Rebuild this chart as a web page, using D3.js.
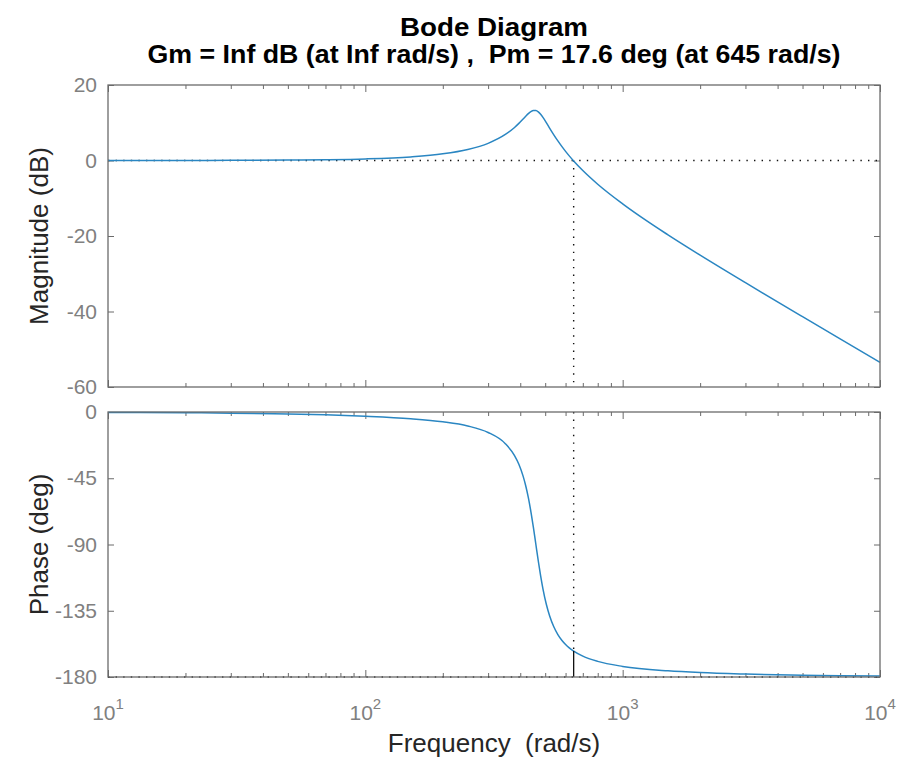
<!DOCTYPE html>
<html>
<head>
<meta charset="utf-8">
<script src="https://cdn.jsdelivr.net/npm/d3@7"></script>
<style>
  html, body { margin: 0; padding: 0; background: #fff; }
  svg { display: block; font-family: "Liberation Sans", Arial, Helvetica, sans-serif; }
  text { white-space: pre; }
</style>
</head>
<body>
<svg id="chart" width="906" height="763"></svg>
<script>
// Frequency response samples (rad/s)
const freq = [10, 20, 30, 50, 70, 100, 150, 200, 250, 300, 350, 380, 395, 410, 420, 430, 440, 450, 460,
  470, 480, 490, 505, 520, 540, 560, 580, 600, 620, 645, 700, 800, 1000, 1500, 2000, 3000, 5000, 7000, 10000];
// Magnitude (dB)
const magnitude = [0.00, 0.02, 0.04, 0.10, 0.20, 0.41, 0.95, 1.76, 2.92, 4.55, 6.89, 8.75, 9.83, 10.97, 11.72,
  12.41, 12.95, 13.25, 13.23, 12.88, 12.24, 11.42, 10.03, 8.60, 6.81, 5.19, 3.73, 2.42, 1.23, -0.12, -2.65,
  -6.28, -11.49, -19.70, -25.07, -32.37, -41.38, -47.26, -53.47];
// Phase (deg)
const phase = [-0.3, -0.5, -0.8, -1.4, -1.9, -2.9, -4.6, -6.7, -9.5, -13.9, -21.5, -29.6, -35.5, -43.4, -50.1,
  -58.2, -67.8, -78.6, -90.0, -101.2, -111.3, -120.1, -130.6, -138.4, -145.9, -151.2, -155.0, -157.9, -160.2,
  -162.4, -165.8, -169.4, -172.8, -175.8, -177.0, -178.0, -178.8, -179.2, -179.4];

// Axis ticks
const magTicks = [-60, -40, -20, 0, 20];
const phaseTicks = [-180, -135, -90, -45, 0];
const decadeTicks = [10, 100, 1000, 10000];
const decadeExponents = ["1", "2", "3", "4"];

// Stability margins
const crossoverFreq = 645;
const phaseAtCrossover = -162.4;
const titleLines = ["Bode Diagram", "Gm = Inf dB (at Inf rad/s) ,  Pm = 17.6 deg (at 645 rad/s)"];

const svg = d3.select("#chart");
const axisColor = "#6b6b6b";
const tickTextColor = "#808080";
const curveColor = "#2a86c2";

const x = d3.scaleLog().domain([10, 10000]).range([108, 880]);
const yMag = d3.scaleLinear().domain([-60, 20]).range([387, 85]);
const yPh = d3.scaleLinear().domain([-180, 0]).range([677, 412]);

const minorTicks = [];
for (let d = 10; d < 10000; d *= 10) for (let k = 2; k <= 9; k++) minorTicks.push(d * k);

function drawPanel(y, ticks) {
  const [yb, yt] = y.range();
  const g = svg.append("g");
  // left axis with labels
  const left = g.append("g").attr("transform", `translate(${x.range()[0]},0)`)
    .call(d3.axisLeft(y).tickValues(ticks).tickSizeInner(-6).tickSizeOuter(0).tickPadding(11).tickFormat(d => String(d)));
  left.selectAll("text").attr("fill", tickTextColor).attr("font-size", 21).attr("font-family", null);
  left.selectAll("line").attr("stroke", axisColor);
  left.select(".domain").remove();
  // right axis
  const right = g.append("g").attr("transform", `translate(${x.range()[1]},0)`)
    .call(d3.axisRight(y).tickValues(ticks).tickSizeInner(-6).tickSizeOuter(0).tickFormat(""));
  right.selectAll("line").attr("stroke", axisColor);
  right.select(".domain").remove();
  // top and bottom log ticks (inward)
  [[yt, 1], [yb, -1]].forEach(([yy, dir]) => {
    const major = g.append("g").attr("transform", `translate(0,${yy})`)
      .call((dir > 0 ? d3.axisTop(x) : d3.axisBottom(x)).tickValues(decadeTicks).tickSizeInner(-7).tickSizeOuter(0).tickFormat(""));
    major.selectAll("line").attr("stroke", axisColor);
    major.select(".domain").remove();
    const minor = g.append("g").attr("transform", `translate(0,${yy})`)
      .call((dir > 0 ? d3.axisTop(x) : d3.axisBottom(x)).tickValues(minorTicks).tickSizeInner(-4).tickSizeOuter(0).tickFormat(""));
    minor.selectAll("line").attr("stroke", axisColor);
    minor.select(".domain").remove();
  });
  return g;
}

function frame(y) {
  const [yb, yt] = y.range();
  svg.append("rect")
    .attr("x", x.range()[0]).attr("y", yt)
    .attr("width", x.range()[1] - x.range()[0]).attr("height", yb - yt)
    .attr("fill", "none").attr("stroke", axisColor).attr("stroke-width", 1.3);
}

drawPanel(yMag, magTicks);
drawPanel(yPh, phaseTicks);

const dotted = { stroke: "#111", "stroke-width": 1.4, "stroke-dasharray": "1.4 6.2" };
function dottedLine(x1, y1, x2, y2) {
  const l = svg.append("line").attr("x1", x1).attr("y1", y1).attr("x2", x2).attr("y2", y2);
  Object.entries(dotted).forEach(([k, v]) => l.attr(k, v));
  return l;
}

// 0 dB reference and crossover marker
dottedLine(x.range()[0], yMag(0), x.range()[1], yMag(0));
dottedLine(x(crossoverFreq), yMag(0), x(crossoverFreq), yMag.range()[0]);
// -180 deg reference and phase margin marker
dottedLine(x.range()[0], yPh(-180), x.range()[1], yPh(-180));
dottedLine(x(crossoverFreq), yPh.range()[1], x(crossoverFreq), yPh(phaseAtCrossover));

// Curves
const pts = freq.map((f, i) => ({ f, m: magnitude[i], p: phase[i] }));
svg.append("path").datum(pts)
  .attr("fill", "none").attr("stroke", curveColor).attr("stroke-width", 1.5)
  .attr("d", d3.line().x(d => x(d.f)).y(d => yMag(d.m)).curve(d3.curveMonotoneX));
svg.append("path").datum(pts)
  .attr("fill", "none").attr("stroke", curveColor).attr("stroke-width", 1.5)
  .attr("d", d3.line().x(d => x(d.f)).y(d => yPh(d.p)).curve(d3.curveMonotoneX));

svg.append("line")
  .attr("x1", x(crossoverFreq)).attr("x2", x(crossoverFreq))
  .attr("y1", yPh(phaseAtCrossover)).attr("y2", yPh(-180))
  .attr("stroke", "#111").attr("stroke-width", 1.3);

frame(yMag);
frame(yPh);

// Decade labels under the phase panel
const xl = svg.append("g");
decadeTicks.forEach((d, i) => {
  const t = xl.append("text")
    .attr("x", x(d)).attr("y", 720)
    .attr("text-anchor", "middle").attr("fill", tickTextColor).attr("font-size", 21);
  t.append("tspan").text("10");
  t.append("tspan").attr("font-size", 15).attr("dy", -11).text(decadeExponents[i]);
});

// Axis titles
const midX = (x.range()[0] + x.range()[1]) / 2;
svg.append("text").attr("x", midX).attr("y", 752).attr("text-anchor", "middle")
  .attr("font-size", 26).attr("fill", "#262626").text("Frequency  (rad/s)");
svg.append("text")
  .attr("transform", `translate(48,${(yMag.range()[0] + yMag.range()[1]) / 2}) rotate(-90)`)
  .attr("text-anchor", "middle").attr("font-size", 26).attr("fill", "#262626").text("Magnitude (dB)");
svg.append("text")
  .attr("transform", `translate(48,${(yPh.range()[0] + yPh.range()[1]) / 2}) rotate(-90)`)
  .attr("text-anchor", "middle").attr("font-size", 26).attr("fill", "#262626").text("Phase (deg)");

// Title
svg.append("text").attr("x", midX).attr("y", 36).attr("text-anchor", "middle")
  .attr("font-size", 25).attr("font-weight", "bold").attr("fill", "#000")
  .attr("textLength", 188).attr("lengthAdjust", "spacingAndGlyphs").text(titleLines[0]);
svg.append("text").attr("x", midX).attr("y", 63).attr("text-anchor", "middle")
  .attr("font-size", 25).attr("font-weight", "bold").attr("fill", "#000")
  .attr("textLength", 693).attr("lengthAdjust", "spacingAndGlyphs").text(titleLines[1]);
</script>
</body>
</html>
